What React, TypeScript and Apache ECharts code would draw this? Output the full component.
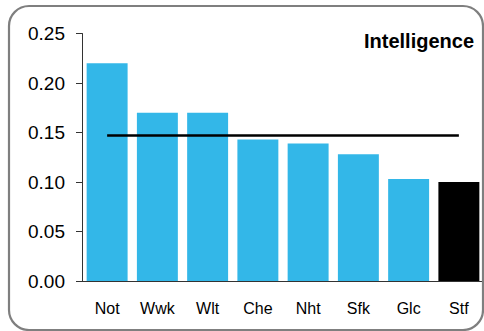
import React, { useEffect, useRef } from "react";
import * as echarts from "echarts";

const categories = ["Not", "Wwk", "Wlt", "Che", "Nht", "Sfk", "Glc", "Stf"];
const values = [0.22, 0.17, 0.17, 0.143, 0.139, 0.128, 0.103, 0.1];
const barColors = ["#33B7E8", "#33B7E8", "#33B7E8", "#33B7E8", "#33B7E8", "#33B7E8", "#33B7E8", "#000000"];
const meanValue = 0.147;
const titleText = "Intelligence";

export default function App() {
  const ref = useRef<HTMLDivElement>(null);
  useEffect(() => {
    if (!ref.current) return;
    const chart = echarts.init(ref.current, null, { renderer: "svg" });
    const font = "'Liberation Sans', Arial, Helvetica, sans-serif";
    chart.setOption({
      animation: false,
      backgroundColor: "#ffffff",
      textStyle: { fontFamily: font },
      title: {
        text: titleText,
        right: 10,
        top: 31,
        padding: 0,
        textStyle: { fontFamily: font, fontSize: 20, fontWeight: "bold", color: "#000" },
      },
      graphic: [
        {
          type: "rect",
          shape: { x: 9, y: 6, width: 474, height: 324, r: 20 },
          style: { fill: "none", stroke: "#7f7f7f", lineWidth: 2.2 },
          z: 100,
          silent: true,
        },
      ],
      grid: { left: 82, top: 33.5, width: 405, height: 247.5, containLabel: false },
      xAxis: {
        type: "category",
        data: categories,
        axisLine: { show: true, lineStyle: { color: "#333", width: 1 } },
        axisTick: { show: false },
        axisLabel: { fontFamily: font, fontSize: 16, color: "#000", margin: 19 },
        splitLine: { show: false },
      },
      yAxis: {
        type: "value",
        min: 0,
        max: 0.25,
        interval: 0.05,
        axisLine: { show: true, lineStyle: { color: "#333", width: 1 } },
        axisTick: { show: true, length: 6, lineStyle: { color: "#333" } },
        axisLabel: {
          fontFamily: font,
          fontSize: 19,
          color: "#000",
          margin: 17,
          formatter: (v: number) => v.toFixed(2),
        },
        splitLine: { show: false },
      },
      series: [
        {
          type: "bar",
          data: values.map((v, i) => ({ value: v, itemStyle: { color: barColors[i] } })),
          barCategoryGap: "18.5%",
        },
        {
          type: "line",
          data: categories.map(() => meanValue),
          symbol: "none",
          lineStyle: { color: "#000", width: 2.5 },
          z: 5,
        },
      ],
    });
    return () => chart.dispose();
  }, []);
  return (
    <div
      ref={ref}
      style={{ position: "absolute", left: 0, top: 0, width: 484, height: 331 }}
    />
  );
}
